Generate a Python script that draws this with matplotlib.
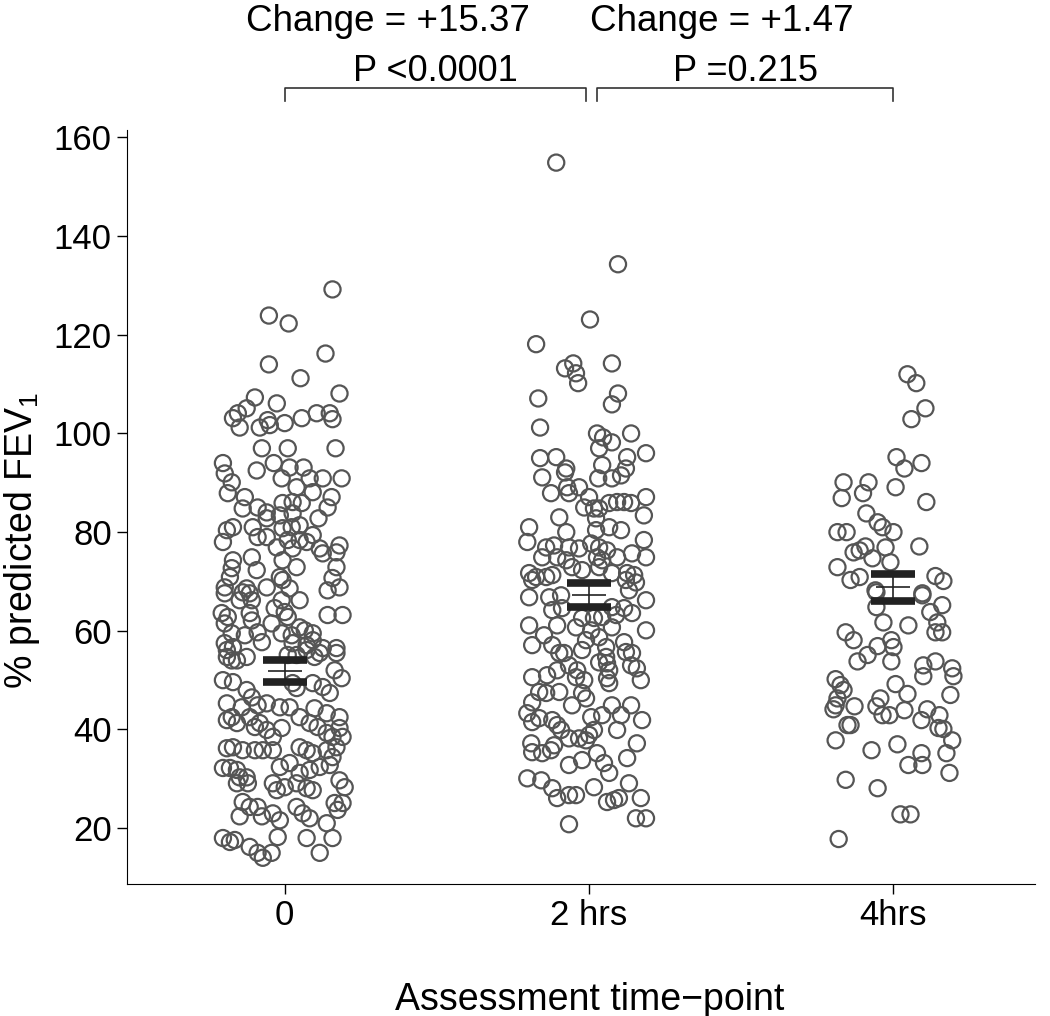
import matplotlib
matplotlib.use("Agg")
import matplotlib.pyplot as plt
import numpy as np

plt.rcParams['font.family'] = ['Liberation Sans', 'DejaVu Sans']
plt.rcParams['mathtext.default'] = 'regular'

#%% Données
categories = ['0', '2 hrs', '4hrs']

# groupe 0 : décalage horizontal (jitter) et valeur
jit_0 = [.157, -.052, .013, .134, -.052, .052, .180, -.098, -.026, -.125, -.154, -.170, -.148, -.082,
         -.056, -.049, .0, .056, .105, .148, .157, -.075, .010, .167, -.203, -.092, -.036, .016, .062,
         -.197, -.174, -.010, .039, .082, .125, .187, -.187, -.131, .092, .154, -.138, -.089, -.059,
         -.007, .026, .056, .141, -.059, -.016, .026, .111, -.190, -.170, -.105, -.007, .023, .049,
         .092, -.203, -.089, -.059, .010, .049, .072, .115, .180, -.026, .026, .170, -.170, -.108,
         -.007, .125, -.174, -.092, .039, .170, -.180, -.016, -.007, .157, -.197, -.138, -.125, -.115,
         -.059, .016, .141, .180, -.197, -.148, -.108, -.010, .049, -.207, -.187, -.115, -.033, .0,
         .141, .190, -.197, -.108, -.043, .010, .049, -.174, -.131, -.089, -.010, .023, .066, .092,
         .092, -.197, -.170, -.075, .026, .072, .125, .170, -.190, -.125, .039, .098, -.190, -.157,
         -.174, .010, .072, .115, .170, -.203, -.170, -.125, -.108, -.089, -.059, -.141, .026, .039,
         .092, .125, .148, .164, .187, -.190, -.190, -.174, -.157, -.115, -.098, -.016, .016, .049,
         .098, .138, .180, -.082, -.059, -.039, -.010, .082, .108, .138, .157, .190, .180, -.190,
         -.170, -.138, -.098, -.072, -.039, .049, .072, .092, .138, .170, .157, -.203, -.180, -.157,
         -.148, -.125, -.016, .016, .049, .082, .115, .148, -.157, -.121, -.039, -.026, .0, .039,
         .072, .092, .180, .197, -.138, -.115, -.089, -.148, -.075, -.039, -.016, .039, .059, .082,
         .138, .164, .190, .174, -.203, -.180, -.164, -.115, -.089, -.072, -.043, -.023, .072, .115,
         .157]
val_0 = [129.2, 123.9, 122.3, 116.2, 114.0, 111.2, 108.1, 107.3, 106.1, 105.1, 104.1, 103.1, 101.2, 101.2,
         102.7, 101.7, 102.1, 103.1, 104.1, 104.1, 102.9, 97.0, 97.0, 97.0, 94.0, 92.5, 94.0, 93.1, 93.1,
         91.9, 90.1, 90.9, 89.1, 90.9, 90.9, 90.9, 87.9, 87.1, 88.1, 87.1, 84.8, 85.0, 84.0,
         85.9, 86.1, 85.9, 85.0, 82.8, 83.4, 83.8, 82.8, 80.4, 81.0, 81.0, 80.8, 81.0, 81.4,
         79.4, 78.0, 79.0, 79.0, 78.4, 78.4, 78.0, 76.7, 77.3, 76.9, 76.7, 75.9, 74.3, 74.9,
         74.3, 75.7, 72.7, 72.3, 72.9, 72.9, 70.9, 70.9, 70.3, 70.7, 68.8, 67.8, 68.6, 67.6,
         68.8, 68.6, 68.2, 68.8, 67.6, 66.2, 66.2, 66.2, 66.2, 63.6, 62.8, 63.6, 64.6, 63.8,
         63.2, 63.2, 61.5, 62.1, 61.5, 62.8, 60.7, 59.5, 59.1, 59.7, 59.5, 59.1, 60.1, 59.5,
         58.1, 57.5, 56.7, 57.7, 57.5, 57.1, 56.5, 56.5, 54.7, 54.7, 55.1, 54.7, 56.1, 54.0,
         54.0, 55.1, 56.1, 55.5, 55.5, 50.0, 49.6, 48.0, 46.5, 44.9, 45.3, 44.5, 49.4, 48.4,
         49.4, 48.6, 47.4, 52.0, 50.4, 45.3, 41.9, 42.5, 41.3, 42.5, 40.5, 44.5, 44.5, 42.5,
         44.3, 43.3, 42.5, 41.3, 39.9, 38.5, 40.3, 41.3, 40.5, 39.3, 38.5, 38.5, 40.3, 36.2,
         36.4, 35.8, 35.8, 35.8, 35.8, 36.4, 35.8, 35.2, 35.8, 36.4, 34.4, 32.2, 32.2, 31.8,
         30.3, 30.3, 32.4, 33.2, 31.2, 31.8, 32.4, 32.8, 29.1, 29.1, 29.1, 27.7, 28.3, 29.1,
         28.1, 27.7, 29.7, 28.3, 25.3, 24.3, 24.3, 22.4, 22.4, 23.0, 21.6, 24.3, 23.0, 22.0,
         21.0, 25.1, 25.1, 23.7, 18.0, 17.2, 17.6, 16.2, 15.0, 14.0, 15.0, 18.2, 18.0, 15.0,
         18.0]

# groupe 2 hrs
jit_2 = [-.108, .095, .003, -.174, -.079, -.052, -.043, -.036, .075, -.167, .095, .075, -.161, .026,
         .046, .033, .075, .138, .187, -.161, -.108, -.075, .043, .125, .121, -.154, -.079, .030,
         .075, .105, -.125, -.072, -.066, -.033, .0, .066, .092, .115, .138, .187, .180, -.016,
         .016, .033, -.098, .023, .066, -.197, -.203, -.075, .023, .105, .180, -.141, -.115, -.066,
         -.033, .007, .033, .059, -.154, -.105, -.075, .026, .043, .092, .141, .187, -.056, -.023,
         .033, -.197, -.174, -.141, -.121, -.187, .075, .125, .148, .154, .121, -.197, -.131, -.092,
         .187, .131, -.121, -.089, .075, .115, .141, -.023, .016, .043, .089, -.197, -.105, .187,
         -.043, .007, .075, -.148, -.010, .033, .115, -.187, -.121, -.082, -.023, .056, .141, -.098,
         .056, .121, -.187, -.138, -.105, -.066, -.039, -.043, -.016, .033, .059, .066, .059, .066,
         .138, .157, .170, -.164, -.141, -.098, -.023, -.187, -.056, -.010, -.203, -.187, -.164,
         -.121, -.105, -.092, .007, .043, .075, .105, .138, .092, .174, .016, .0, -.066, -.033,
         -.010, -.190, -.187, -.154, -.125, -.115, .157, -.066, -.023, .026, .049, .066, .125,
         -.203, -.157, -.121, -.105, -.066, -.043, .016, .131, .059, .082, .098, .170, .154, .187,
         -.066]
val_2 = [154.9, 134.3, 123.1, 118.1, 113.2, 114.2, 112.2, 110.2, 114.2, 107.1, 108.1, 105.9, 101.2, 100.0,
         99.2, 97.0, 98.2, 100.0, 96.0, 95.0, 95.2, 92.9, 93.6, 95.2, 92.9, 91.1, 92.1, 90.9,
         90.9, 91.5, 87.9, 89.1, 87.9, 89.1, 87.1, 85.9, 86.1, 86.1, 85.9, 87.1, 83.4, 85.0,
         84.8, 84.8, 83.0, 82.8, 81.0, 81.0, 78.0, 80.0, 80.4, 80.4, 78.4, 76.9, 77.3, 76.9,
         76.7, 77.7, 76.9, 76.3, 74.9, 74.9, 74.3, 74.9, 74.3, 74.9, 75.7, 74.9, 72.9, 72.3,
         72.9, 71.7, 70.9, 70.9, 71.3, 70.3, 71.7, 71.7, 71.3, 69.8, 70.3, 66.8, 66.8, 67.2,
         66.2, 68.2, 64.2, 64.6, 64.8, 64.6, 63.6, 62.6, 62.6, 62.8, 63.2, 61.1, 61.1, 60.1,
         60.7, 60.1, 60.7, 59.1, 58.1, 58.7, 57.7, 57.1, 57.1, 55.5, 56.1, 56.7, 55.5, 55.5,
         54.7, 55.7, 50.6, 51.0, 52.0, 53.0, 52.0, 50.6, 50.0, 53.6, 53.4, 52.0, 50.4, 49.4,
         53.0, 52.4, 50.0, 47.6, 47.4, 47.6, 47.4, 45.5, 44.9, 46.3, 43.3, 41.5, 42.3,
         41.9, 40.9, 39.9, 42.5, 42.9, 44.9, 42.9, 44.9, 39.9, 41.9, 39.9, 38.9, 38.2, 38.2,
         37.8, 37.2, 35.4, 35.2, 35.8, 36.8, 37.2, 32.8, 33.8, 35.2, 33.2, 31.2, 34.2,
         30.1, 29.7, 28.1, 26.1, 26.7, 26.7, 28.3, 29.1, 25.3, 25.7, 26.1, 26.1, 22.0, 22.0,
         20.8]

# groupe 4 hrs
jit_4 = [.046, .075, .105, .059, .010, .036, .092, -.164, -.082, -.170, -.100, .007, .108, -.089,
         -.052, -.036, .0, -.184, -.154, .085, -.131, -.111, -.092, -.026, -.069, -.010, -.184,
         -.141, -.111, .138, .164, -.059, .095, -.056, .095, .160, .121, .144, .138, .160, -.056,
         -.033, .049, -.157, -.131, -.052, -.007, .0, -.085, -.118, -.007, .098, .138, .193, .197,
         .098, -.190, -.174, -.164, .007, .046, .187, -.184, -.190, -.197, -.128, -.043, -.056,
         -.036, -.013, .036, .111, .092, .151, .148, .164, .193, -.151, -.141, -.190, -.072, .013,
         .092, .049, .095, .174, .184, -.157, -.052, .023, .056, -.180]
val_4 = [112.0, 110.2, 105.1, 102.9, 95.2, 92.9, 94.0, 90.1, 90.1, 86.9, 87.9, 89.1, 86.1, 83.8,
         82.0, 81.0, 80.0, 80.0, 80.0, 77.1, 75.9, 76.3, 77.1, 76.9, 74.7, 73.9, 72.9,
         70.3, 70.9, 71.1, 70.1, 68.2, 67.6, 67.8, 67.2, 65.2, 63.8, 61.7, 59.7, 59.7, 64.8,
         61.7, 61.1, 59.7, 58.1, 56.9, 58.1, 56.7, 55.1, 53.8, 53.8, 53.0, 53.8, 52.4, 50.8,
         50.8, 50.2, 49.0, 48.0, 49.2, 47.2, 47.0, 46.3, 44.9, 44.1, 44.7, 46.3, 44.7,
         42.9, 42.9, 43.9, 44.1, 41.9, 42.9, 40.3, 40.1, 37.8, 40.9, 40.9, 37.8, 35.8, 37.0,
         35.2, 32.8, 32.8, 35.2, 31.2, 29.8, 28.1, 22.8, 22.8, 17.8]

# moyennes et intervalles
moyennes = [51.8, 67.2, 68.8]
bas = [49.6, 64.8, 66.0]
haut = [54.0, 69.6, 71.5]

textes_p = ['P <0.0001', 'P =0.215']
textes_change = ['Change = +15.37', 'Change = +1.47']

#%% Figure
fig = plt.figure(figsize=(10.5, 10.16), dpi=100)
ax = fig.add_axes([0.121, 0.130, 0.865, 0.742])

gris = '#555555'
for i, (jit, val) in enumerate([(jit_0, val_0), (jit_2, val_2), (jit_4, val_4)]):
    ax.scatter(i + np.array(jit), val, s=135, facecolors='none', edgecolors=gris,
               linewidths=1.6, zorder=2)

pos = np.arange(len(categories))
err = [np.array(moyennes) - np.array(bas), np.array(haut) - np.array(moyennes)]
ax.errorbar(pos, moyennes, yerr=err, fmt='none', ecolor='#222222',
            elinewidth=1.2, capsize=16, capthick=5.5, zorder=3)
# trait de la moyenne
ax.plot(pos, moyennes, linestyle='none', marker='_', markersize=24, mew=1.2,
        color='#222222', zorder=3)

ax.set_xlim(-0.518, 2.466)
ax.set_ylim(8.7, 161.5)
ax.set_yticks(range(20, 161, 20))
ax.set_xticks(pos)
ax.set_xticklabels(categories)
ax.tick_params(labelsize=25, length=7, width=1, direction='out', pad=4)
for cote in ['top', 'right']:
    ax.spines[cote].set_visible(False)
ax.spines['left'].set_bounds(8.7, 161.5)

# crochets et annotations au-dessus
crochets = [(0, 0.99), (1.026, 2.0)]
for (a, b), tp in zip(crochets, textes_p):
    ax.plot([a, a, b, b], [167.3, 170.1, 170.1, 167.3], color='#333333', lw=1.2, clip_on=False)
    ax.text((a + b) / 2, 173.3, tp, ha='center', va='center', fontsize=26)
ax.text(0.338, 181.6, textes_change[0], ha='center', va='baseline', fontsize=26.5)
ax.text(1.436, 181.6, textes_change[1], ha='center', va='baseline', fontsize=26.5)

fig.text(590 / 1050, 1 - 1000 / 1016, 'Assessment time\u2212point', ha='center', va='center', fontsize=27)
fig.text(22 / 1050, 1 - 540 / 1016, '% predicted FEV$_1$', ha='center', va='center',
         rotation=90, fontsize=27)

fig.savefig('out.png', dpi=100)
